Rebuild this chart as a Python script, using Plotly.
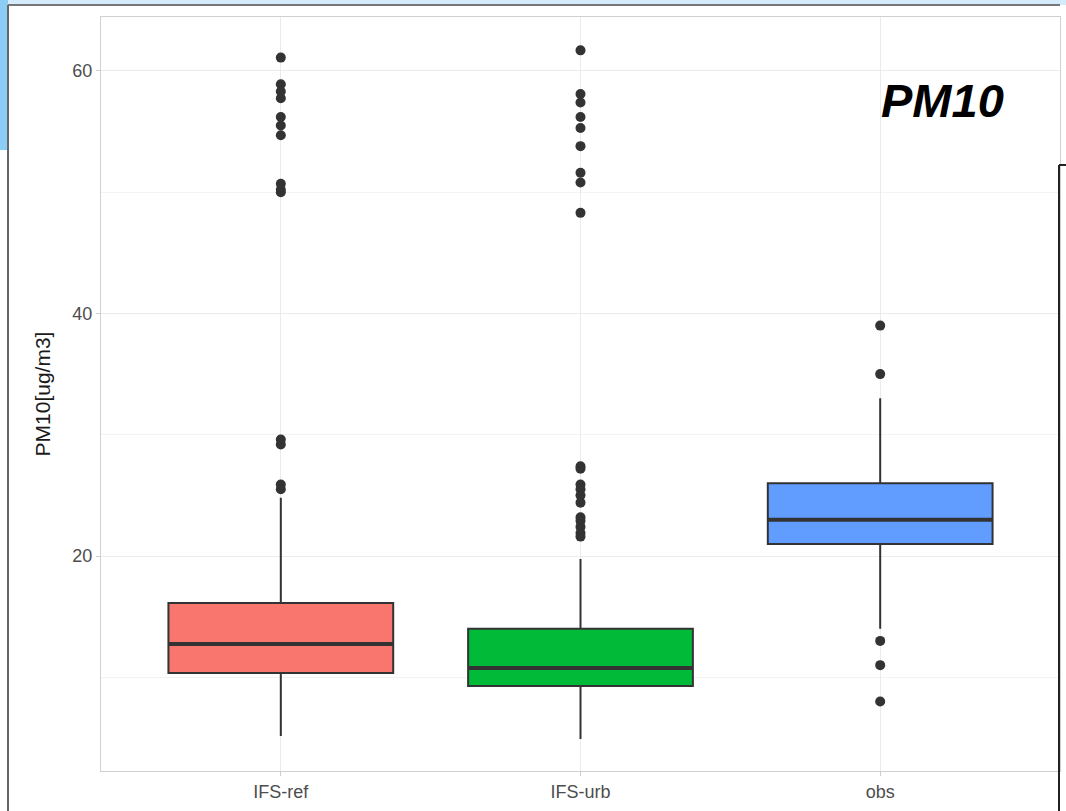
import plotly.graph_objects as go

# Model runs and observations
categories = ["IFS-ref", "IFS-urb", "obs"]
positions = [1, 2, 3]
fill_colors = ["#F8766D", "#00BA38", "#619CFF"]

# Box statistics (ug/m3)
q1 = [10.35, 9.28, 21.0]
median = [12.74, 10.76, 23.0]
q3 = [16.12, 14.0, 26.0]
lower_whisker = [5.15, 4.9, 14.0]
upper_whisker = [24.8, 19.75, 33.0]

# Outlying values beyond the whiskers
outliers_ref = [61.1, 58.9, 58.3, 57.75, 56.2, 55.5, 54.7, 50.7, 50.2, 50.0,
                29.6, 29.2, 25.9, 25.5]
outliers_urb = [61.7, 58.1, 57.4, 56.2, 55.3, 53.8, 51.6, 50.8, 48.3,
                27.4, 27.2, 25.9, 25.5, 25.0, 24.4, 23.2, 22.9, 22.4, 21.9, 21.6]
outliers_obs = [39.0, 35.0, 13.0, 11.0, 8.0]
outliers = [outliers_ref, outliers_urb, outliers_obs]

y_ticks = [20, 40, 60]

W, H = 1066, 811
L, R, T, B = 101, 6, 17, 40
box_width = 0.75

fig = go.Figure()

for i, name in enumerate(categories):
    x = positions[i]
    fig.add_trace(go.Box(
        x=[x], q1=[q1[i]], median=[median[i]], q3=[q3[i]],
        lowerfence=[lower_whisker[i]], upperfence=[upper_whisker[i]],
        width=box_width, boxpoints=False, fillcolor=fill_colors[i],
        line=dict(color="#333333", width=2), whiskerwidth=0,
        name=name, showlegend=False, hoverinfo="skip",
    ))
    # thicker median bar
    fig.add_trace(go.Scatter(
        x=[x - box_width / 2, x + box_width / 2], y=[median[i], median[i]],
        mode="lines", line=dict(color="#333333", width=4),
        showlegend=False, hoverinfo="skip",
    ))
    fig.add_trace(go.Scatter(
        x=[x] * len(outliers[i]), y=outliers[i], mode="markers",
        marker=dict(color="#333333", size=10, line=dict(width=0)),
        showlegend=False,
    ))

fig.update_layout(
    width=W, height=H,
    margin=dict(l=L, r=R, t=T, b=B),
    paper_bgcolor="white", plot_bgcolor="white",
    font=dict(family="Liberation Sans, Arial, sans-serif", color="#4D4D4D"),
    xaxis=dict(
        range=[0.4, 3.6], tickvals=positions, ticktext=categories,
        showgrid=True, gridcolor="#EBEBEB", gridwidth=1,
        ticks="outside", ticklen=4, tickcolor="#CCCCCC",
        tickfont=dict(size=18, color="#4D4D4D"),
        showline=True, linecolor="#D0D0D0", linewidth=1, mirror=True,
        zeroline=False,
    ),
    yaxis=dict(
        range=[2.27, 64.45], tickvals=y_ticks,
        showgrid=True, gridcolor="#EBEBEB", gridwidth=1,
        minor=dict(tickvals=[10, 30, 50], showgrid=True,
                   gridcolor="#F3F3F3", gridwidth=1),
        ticks="outside", ticklen=4, tickcolor="#CCCCCC",
        tickfont=dict(size=18, color="#4D4D4D"),
        showline=True, linecolor="#D0D0D0", linewidth=1, mirror=True,
        zeroline=False,
        title=dict(text="PM10[ug/m3]", standoff=16,
                   font=dict(family="Liberation Sans Narrow, Liberation Sans, Arial",
                             size=21, color="#1A1A1A")),
    ),
)


def px_x(p):
    return (p - L) / (W - L - R)


def px_y(p):
    return (H - B - p) / (H - T - B)


# slide frame around the figure
shapes = [
    dict(type="rect", xref="paper", yref="paper", x0=px_x(0), x1=px_x(W),
         y0=px_y(0), y1=px_y(5), fillcolor="#D3EBFB", line=dict(width=0), layer="below"),
    dict(type="rect", xref="paper", yref="paper", x0=px_x(0), x1=px_x(8),
         y0=px_y(0), y1=px_y(150), fillcolor="#8CCDF6", line=dict(width=0), layer="below"),
    dict(type="line", xref="paper", yref="paper", x0=px_x(8), x1=px_x(1060),
         y0=px_y(5), y1=px_y(5), line=dict(color="#777777", width=2)),
    dict(type="line", xref="paper", yref="paper", x0=px_x(8), x1=px_x(8),
         y0=px_y(5), y1=px_y(H), line=dict(color="#666666", width=2)),
    dict(type="line", xref="paper", yref="paper", x0=px_x(1059), x1=px_x(1059),
         y0=px_y(165), y1=px_y(H), line=dict(color="#222222", width=2)),
    dict(type="line", xref="paper", yref="paper", x0=px_x(1059), x1=px_x(W),
         y0=px_y(165), y1=px_y(165), line=dict(color="#222222", width=2)),
]
fig.update_layout(shapes=shapes)

fig.add_annotation(
    text="<b><i>PM10</i></b>", xref="paper", yref="paper",
    x=px_x(1006), y=px_y(100), xanchor="right", yanchor="middle",
    showarrow=False, font=dict(family="Liberation Sans, Arial", size=47, color="black"),
)

fig.write_html("out.html")
